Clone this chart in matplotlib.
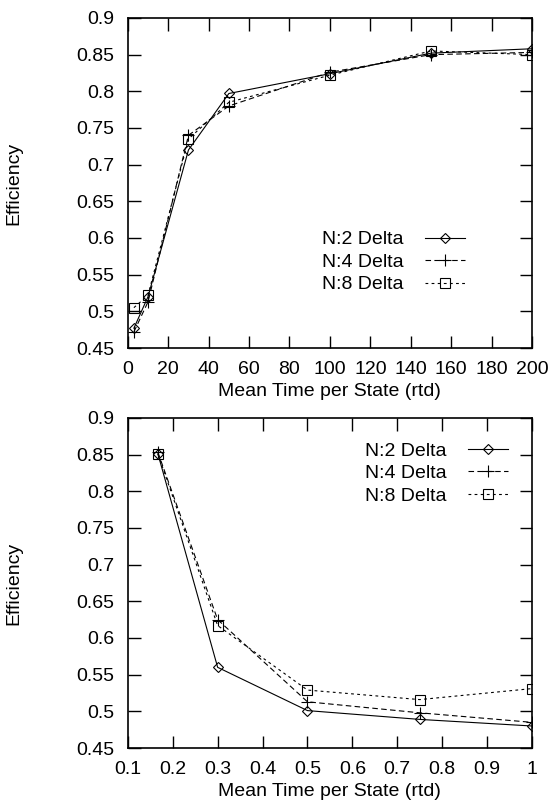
import matplotlib
matplotlib.use('Agg')
import matplotlib.pyplot as plt

plt.rcParams['font.family'] = ['Liberation Sans', 'DejaVu Sans']
plt.rcParams['font.size'] = 14

# top panel data
x_top = [3, 10, 30, 50, 100, 150, 200]
n2_top = [0.477, 0.520, 0.720, 0.797, 0.824, 0.852, 0.858]
n4_top = [0.472, 0.513, 0.740, 0.780, 0.826, 0.850, 0.853]
n8_top = [0.505, 0.522, 0.735, 0.785, 0.822, 0.855, 0.850]

# bottom panel data
x_bot = [0.167, 0.3, 0.5, 0.75, 1.0]
n2_bot = [0.851, 0.560, 0.501, 0.489, 0.480]
n4_bot = [0.853, 0.625, 0.513, 0.498, 0.485]
n8_bot = [0.851, 0.617, 0.529, 0.516, 0.531]

labels = ['N:2 Delta', 'N:4 Delta', 'N:8 Delta']
yticks = [0.45, 0.5, 0.55, 0.6, 0.65, 0.7, 0.75, 0.8, 0.85, 0.9]
ytick_labels = ['0.45', '0.5', '0.55', '0.6', '0.65', '0.7', '0.75', '0.8', '0.85', '0.9']

fig = plt.figure(figsize=(5.51, 8.05), dpi=100)
ax1 = fig.add_axes([0.232, 0.5677, 0.7335, 0.41])
ax2 = fig.add_axes([0.232, 0.0708, 0.7335, 0.41])

styles = [dict(ls='-', marker='D', ms=5.5),
          dict(ls=(0, (5, 3)), marker='+', ms=8),
          dict(ls=(0, (2.5, 3)), marker='s', ms=7)]


def draw(ax, x, series):
    for ys, st, lab in zip(series, styles, labels):
        ax.plot(x, ys, color='black', lw=0.8, mfc='none', mec='black', mew=0.8,
                label=lab, **st)
    ax.set_ylim(0.45, 0.9)
    ax.set_yticks(yticks)
    ax.set_yticklabels(ytick_labels)
    ax.tick_params(direction='in', length=9, width=1, top=True, right=True)
    ax.tick_params(axis='y', pad=10)
    ax.tick_params(axis='x', pad=9)
    for s in ax.spines.values():
        s.set_linewidth(1.2)
    ax.set_ylabel('Efficiency')
    ax.yaxis.set_label_coords(-0.262, 0.5)
    ax.set_xlabel('Mean Time per State (rtd)', labelpad=4)


draw(ax1, x_top, [n2_top, n4_top, n8_top])
ax1.set_xlim(0, 200)
ax1.set_xticks(range(0, 201, 20))
ax1.legend(loc='upper right', bbox_to_anchor=(0.834, 0.355), frameon=False,
           markerfirst=False, handlelength=2.06, handletextpad=1.08,
           labelspacing=0.25, borderpad=0, borderaxespad=0)

draw(ax2, x_bot, [n2_bot, n4_bot, n8_bot])
ax2.set_xlim(0.1, 1.0)
ax2.set_xticks([0.1, 0.2, 0.3, 0.4, 0.5, 0.6, 0.7, 0.8, 0.9, 1.0])
ax2.set_xticklabels(['0.1', '0.2', '0.3', '0.4', '0.5', '0.6', '0.7', '0.8', '0.9', '1'])
ax2.legend(loc='upper right', bbox_to_anchor=(0.9406, 0.927), frameon=False,
           markerfirst=False, handlelength=2.06, handletextpad=1.08,
           labelspacing=0.25, borderpad=0, borderaxespad=0)

fig.savefig('out.png', dpi=100)
